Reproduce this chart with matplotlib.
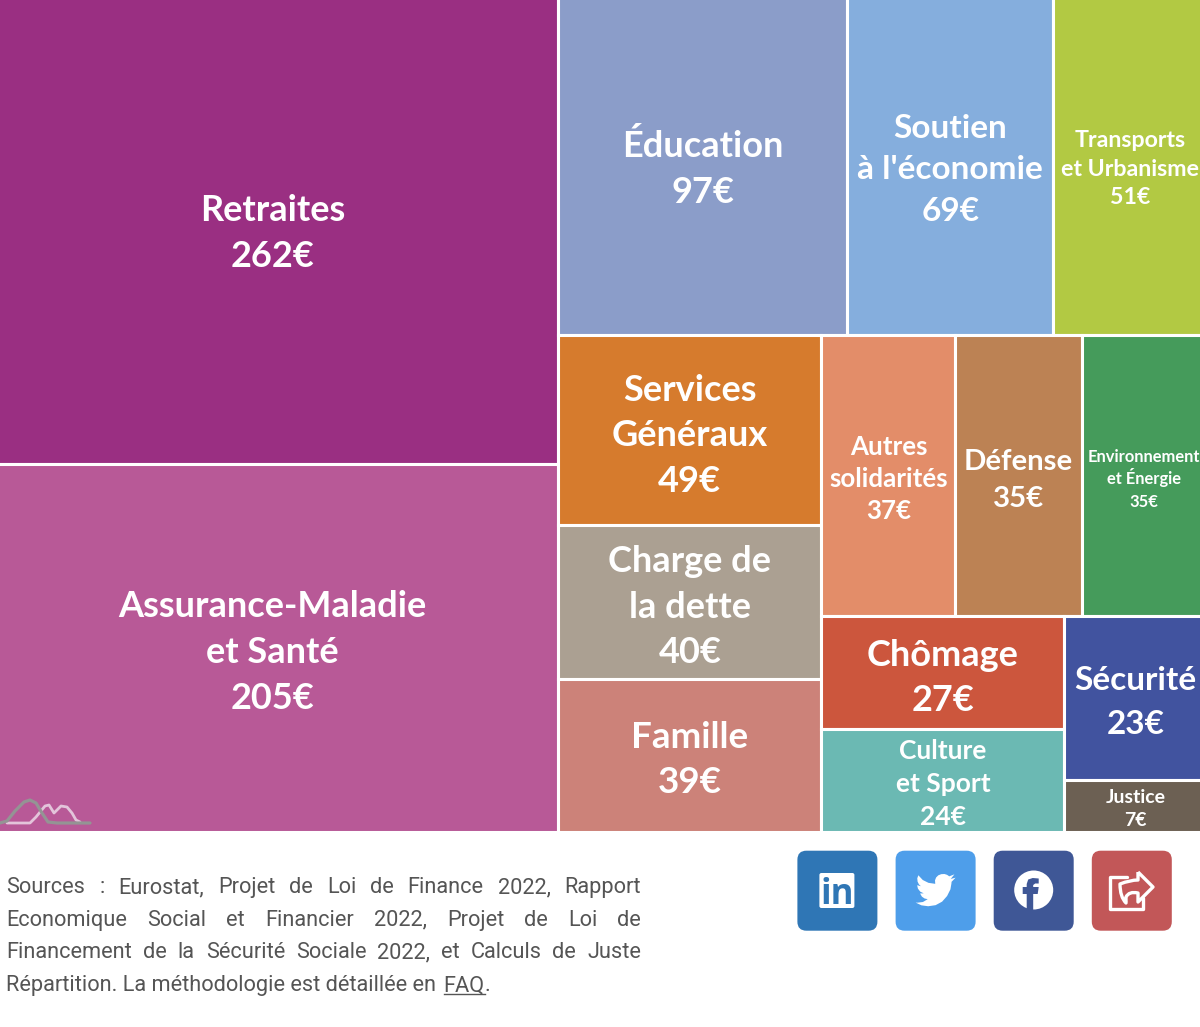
"""Treemap of public spending per 1000 euros, with the source note and share buttons."""

import matplotlib
matplotlib.use("Agg")
import matplotlib.pyplot as plt
from matplotlib.patches import Rectangle, FancyBboxPatch, Circle, PathPatch, Polygon
from matplotlib.path import Path

# ── Data ──────────────────────────────────────────────────────────────────────
LABELS = {
    "retraites": ["Retraites"],
    "sante": ["Assurance-Maladie", "et Santé"],
    "education": ["Éducation"],
    "economie": ["Soutien", "à l'économie"],
    "transports": ["Transports", "et Urbanisme"],
    "services": ["Services", "Généraux"],
    "dette": ["Charge de", "la dette"],
    "famille": ["Famille"],
    "solidarites": ["Autres", "solidarités"],
    "defense": ["Défense"],
    "environnement": ["Environnement", "et Énergie"],
    "chomage": ["Chômage"],
    "culture": ["Culture", "et Sport"],
    "securite": ["Sécurité"],
    "justice": ["Justice"],
}
VALUES = {
    "retraites": 262, "sante": 205, "education": 97, "economie": 69, "transports": 51,
    "services": 49, "dette": 40, "famille": 39, "solidarites": 37, "defense": 35,
    "environnement": 35, "chomage": 27, "culture": 24, "securite": 23, "justice": 7,
}
# tile areas (they differ a little from the printed euros)
AREAS = {
    "retraites": 260.2, "sante": 205.0, "education": 97.0, "economie": 69.2, "transports": 50.2,
    "services": 49.6, "dette": 40.3, "famille": 39.9, "solidarites": 37.4, "defense": 35.3,
    "environnement": 33.8, "chomage": 27.2, "culture": 24.8, "securite": 22.5, "justice": 7.2,
}
COLORS = {
    "retraites": "#9A2F82", "sante": "#B85997", "education": "#8B9DC9", "economie": "#85AEDD",
    "transports": "#B2C943", "services": "#D67B2D", "dette": "#ABA092", "famille": "#CC8279",
    "solidarites": "#E38D69", "defense": "#BC8254", "environnement": "#459B5B",
    "chomage": "#CC563D", "culture": "#6BB9B3", "securite": "#41539F", "justice": "#6C6053",
}
FONT_SIZES = {
    "retraites": 26, "sante": 26, "education": 26, "economie": 24, "transports": 16.7,
    "services": 26, "dette": 26, "famille": 26.5, "solidarites": 18.6, "defense": 21.2,
    "environnement": 11.9, "chomage": 26, "culture": 19, "securite": 24, "justice": 14,
}
LINE_PITCH = {
    "retraites": 46, "sante": 46, "education": 46, "economie": 41.5, "transports": 28.5,
    "services": 45.5, "dette": 45.5, "famille": 45, "solidarites": 32, "defense": 37,
    "environnement": 22.5, "chomage": 45, "culture": 33, "securite": 43.5, "justice": 23,
}
OFFSETS = {
    "retraites": (-5, 2), "sante": (-5, 3), "education": (0, 2), "economie": (0, 2),
    "transports": (2, 2), "services": (0, 4.5), "dette": (0, 3.5), "famille": (0, 3),
    "solidarites": (0, 3), "defense": (0, 3), "environnement": (1.5, 3), "chomage": (0, 4),
    "culture": (0, 3), "securite": (2, 3), "justice": (2, 2),
}

SOURCE_LINES = [
    "Sources : Eurostat, Projet de Loi de Finance 2022, Rapport",
    "Economique Social et Financier 2022, Projet de Loi de",
    "Financement de la Sécurité Sociale 2022, et Calculs de Juste",
]
SOURCE_LAST = "Répartition. La méthodologie est détaillée en"
BUTTON_COLORS = ["#2F76B5", "#4E9EEA", "#3F5796", "#C25758"]
BUTTON_X = [797.4, 895.6, 993.7, 1091.8]

TEXT_GREY = "#555555"
BODY_FONT = "Roboto"
TILE_FONT = "Lato"


# ── Treemap layout ────────────────────────────────────────────────────────────

def split(box, weights, horizontal):
    """Cut box (x0, y0, x1, y1) into consecutive parts proportional to weights."""
    x0, y0, x1, y1 = box
    total = sum(weights)
    parts = []
    pos = x0 if horizontal else y0
    for w in weights:
        if horizontal:
            step = (x1 - x0) * w / total
            parts.append((pos, y0, pos + step, y1))
        else:
            step = (y1 - y0) * w / total
            parts.append((x0, pos, x1, pos + step))
        pos += step
    return parts


def area_sum(keys):
    return sum(AREAS[k] for k in keys)


def layout(box):
    left_keys = ["retraites", "sante"]
    top_keys = ["education", "economie", "transports"]
    mid_keys = ["services", "dette", "famille"]
    row_keys = ["solidarites", "defense", "environnement"]
    a_keys = ["chomage", "culture"]
    b_keys = ["securite", "justice"]
    rest_keys = mid_keys + row_keys + a_keys + b_keys

    boxes = {}
    left, right = split(box, [area_sum(left_keys), area_sum(top_keys + rest_keys)], True)
    boxes.update(zip(left_keys, split(left, [AREAS[k] for k in left_keys], False)))

    top, rest = split(right, [area_sum(top_keys), area_sum(rest_keys)], False)
    boxes.update(zip(top_keys, split(top, [AREAS[k] for k in top_keys], True)))

    mid, far = split(rest, [area_sum(mid_keys), area_sum(row_keys + a_keys + b_keys)], True)
    boxes.update(zip(mid_keys, split(mid, [AREAS[k] for k in mid_keys], False)))

    row, low = split(far, [area_sum(row_keys), area_sum(a_keys + b_keys)], False)
    boxes.update(zip(row_keys, split(row, [AREAS[k] for k in row_keys], True)))

    col_a, col_b = split(low, [area_sum(a_keys), area_sum(b_keys)], True)
    boxes.update(zip(a_keys, split(col_a, [AREAS[k] for k in a_keys], False)))
    boxes.update(zip(b_keys, split(col_b, [AREAS[k] for k in b_keys], False)))
    return boxes


# ── Drawing helpers ───────────────────────────────────────────────────────────

def draw_tiles(ax):
    for key, (x0, y0, x1, y1) in layout((-3, -3, 1203, 832)).items():
        ax.add_patch(Rectangle((x0, y0), x1 - x0, y1 - y0, facecolor=COLORS[key],
                               edgecolor="white", linewidth=2.2))
        lines = LABELS[key] + [f"{VALUES[key]}€"]
        dx, dy = OFFSETS[key]
        cx, cy = (x0 + x1) / 2 + dx, (y0 + y1) / 2 + dy
        size = FONT_SIZES[key]
        for i, line in enumerate(lines):
            y = cy + (i - (len(lines) - 1) / 2) * LINE_PITCH[key] + 0.33 * size * 100 / 72
            ax.text(cx, y, line, color="white", fontsize=size, family=TILE_FONT,
                    weight="bold", ha="center", va="baseline", clip_on=True)


def draw_logo(ax):
    grey = [(0, 823), (7, 821), (15, 811), (24, 802), (30, 800), (36, 803), (42, 813),
            (48, 822), (57, 823), (90, 823)]
    pale = [(7, 823), (30, 823), (36, 817), (45, 806), (49, 805), (54, 813), (61, 806),
            (67, 807), (72, 813), (76, 820), (80, 822)]
    ax.plot(*zip(*pale), color="#E3C4DA", lw=2, solid_joinstyle="round", solid_capstyle="round")
    ax.plot(*zip(*grey), color="#949494", lw=2.3, solid_joinstyle="round", solid_capstyle="round")


def draw_source(ax, fig):
    renderer = fig.canvas.get_renderer()
    left, right = 6.5, 641
    size = 15.7

    def width(s):
        t = ax.text(0, 0, s, fontsize=size, family=BODY_FONT)
        w = t.get_window_extent(renderer).width
        t.remove()
        return w

    baseline = 893
    for line in SOURCE_LINES:
        words = line.split(" ")
        widths = [width(w) for w in words]
        gap = (right - left - sum(widths)) / (len(words) - 1)
        x = left
        for word, w in zip(words, widths):
            ax.text(x, baseline, word, fontsize=size, family=BODY_FONT, color=TEXT_GREY,
                    ha="left", va="baseline")
            x += w + gap
        baseline += 32.7

    ax.text(left, baseline, SOURCE_LAST, fontsize=size, family=BODY_FONT,
            color=TEXT_GREY, ha="left", va="baseline")
    faq_x = 443.5
    ax.text(faq_x, baseline, "FAQ", fontsize=size, family=BODY_FONT, color=TEXT_GREY,
            ha="left", va="baseline")
    faq_w = width("FAQ")
    ax.plot([faq_x, faq_x + faq_w], [baseline + 2.5, baseline + 2.5], color=TEXT_GREY, lw=1)
    ax.text(faq_x + faq_w, baseline, ".", fontsize=size, family=BODY_FONT, color=TEXT_GREY,
            ha="left", va="baseline")


def draw_button(ax, x, color):
    ax.add_patch(FancyBboxPatch((x + 8, 858.7), 64, 64, boxstyle="round,pad=8,rounding_size=9",
                                facecolor=color, edgecolor="none"))


def draw_linkedin(ax, x, color):
    ax.add_patch(FancyBboxPatch((x + 24, 875), 31, 31, boxstyle="round,pad=2,rounding_size=2",
                                facecolor="white", edgecolor="none"))
    ax.text(x + 39.5, 903.5, "in", color=color, fontsize=25, family="Open Sans", weight="bold",
            ha="center", va="baseline")


def draw_twitter(ax, x):
    bird = [(24, 4.6), (21.1, 5.35), (23.3, 2.6), (20.2, 3.8), (18.9, 2.9), (17.3, 2.4),
            (15.4, 2.5), (13.6, 3.2), (12.3, 4.5), (11.65, 6.2), (11.78, 8.3), (7.7, 7.7),
            (4.3, 6.0), (1.64, 3.16), (1.0, 5.0), (1.2, 7.0), (2, 8.6), (3.16, 9.73),
            (0.93, 9.12), (1.4, 11.2), (2.8, 13.0), (4.88, 14.0), (2.67, 14.09), (3.8, 16),
            (5.4, 17.1), (7.27, 17.5), (4.4, 19.2), (1.17, 19.6), (0, 19.54), (3.5, 21.2),
            (7.56, 21.75), (12, 21.1), (15.9, 19), (18.9, 15.6), (20.9, 11.6), (21.55, 7.77),
            (21.54, 7.14)]
    scale = 40 / 24
    pts = [(x + 20 + px * scale, 870 + py * scale) for px, py in bird]
    ax.add_patch(Polygon(pts, closed=True, facecolor="white", edgecolor="none"))


def draw_facebook(ax, x, color):
    cx, cy = x + 40, 890
    ax.add_patch(Circle((cx, cy), 19.5, facecolor="white", edgecolor="none"))
    f_shape = [(-7, 20), (-7, 4), (-11, 4), (-11, -3), (-7, -3), (-7, -6), (-5.5, -10.5),
               (-1, -12), (5, -11.5), (5, -6.5), (1.5, -6.5), (-0.5, -5), (-0.5, -3), (5, -3),
               (4, 4), (-0.5, 4), (-0.5, 20)]
    ax.add_patch(Polygon([(cx + a, cy + b) for a, b in f_shape], closed=True, facecolor=color,
                         edgecolor="none"))


def draw_share(ax, x):
    ox = x - 311.8
    box = [(ox + 347, 877), (ox + 330, 877), (ox + 330, 909), (ox + 363, 909), (ox + 363, 898)]
    ax.plot(*zip(*box), color="white", lw=2.4, solid_joinstyle="round", solid_capstyle="round")
    verts = [(ox + 358, 872), (ox + 373, 887), (ox + 358, 902), (ox + 358, 893),
             (ox + 349, 891), (ox + 346, 897), (ox + 346, 903), (ox + 340, 897),
             (ox + 340, 884), (ox + 350, 880), (ox + 358, 880), (ox + 358, 872)]
    codes = [Path.MOVETO, Path.LINETO, Path.LINETO, Path.LINETO, Path.CURVE3, Path.CURVE3,
             Path.LINETO, Path.CURVE3, Path.CURVE3, Path.CURVE3, Path.CURVE3, Path.LINETO]
    ax.add_patch(PathPatch(Path(verts, codes), facecolor="none", edgecolor="white", lw=2.4,
                           joinstyle="round"))


def main():
    fig = plt.figure(figsize=(12, 10.27), dpi=100)
    ax = fig.add_axes([0, 0, 1, 1])
    ax.set_xlim(0, 1200)
    ax.set_ylim(1027, 0)
    ax.axis("off")

    draw_tiles(ax)
    draw_logo(ax)
    draw_source(ax, fig)

    for x, color in zip(BUTTON_X, BUTTON_COLORS):
        draw_button(ax, x, color)
    draw_linkedin(ax, BUTTON_X[0], BUTTON_COLORS[0])
    draw_twitter(ax, BUTTON_X[1])
    draw_facebook(ax, BUTTON_X[2], BUTTON_COLORS[2])
    draw_share(ax, BUTTON_X[3])

    fig.savefig("out.png", dpi=100)
    plt.close(fig)


if __name__ == "__main__":
    main()
